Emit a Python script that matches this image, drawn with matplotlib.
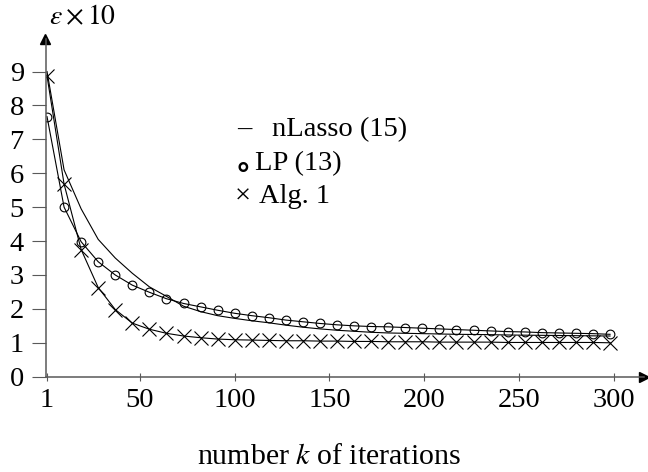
import matplotlib
matplotlib.use('Agg')
import matplotlib.pyplot as plt

plt.rcParams['font.family'] = ['Liberation Serif', 'DejaVu Serif']
plt.rcParams['mathtext.fontset'] = 'stix'
plt.rcParams['axes.unicode_minus'] = False

# iterations where values were recorded
k = [1, 10, 19, 28, 37, 46, 55, 64, 73, 82, 91, 100, 109, 118, 127, 136, 145,
     154, 163, 172, 181, 190, 199, 208, 217, 226, 235, 244, 253, 262, 271, 280,
     289, 298]

# error x 10
nlasso = [9.00, 6.10, 4.95, 4.05, 3.50, 3.05, 2.65, 2.37, 2.08, 1.92, 1.80,
          1.72, 1.65, 1.59, 1.52, 1.46, 1.41, 1.37, 1.34, 1.31, 1.29, 1.28,
          1.27, 1.26, 1.25, 1.245, 1.24, 1.23, 1.225, 1.22, 1.215, 1.21,
          1.205, 1.20]
lp = [7.67, 5.00, 3.98, 3.39, 3.00, 2.70, 2.49, 2.30, 2.16, 2.06, 1.96, 1.87,
      1.80, 1.74, 1.67, 1.62, 1.57, 1.53, 1.50, 1.48, 1.47, 1.45, 1.43, 1.41,
      1.39, 1.37, 1.35, 1.33, 1.32, 1.30, 1.29, 1.28, 1.27, 1.25]
alg1 = [8.87, 5.68, 3.75, 2.63, 1.98, 1.58, 1.40, 1.28, 1.20, 1.15, 1.11,
        1.09, 1.08, 1.07, 1.06, 1.06, 1.05, 1.05, 1.04, 1.04, 1.03, 1.03,
        1.03, 1.02, 1.02, 1.02, 1.02, 1.01, 1.01, 1.01, 1.01, 1.01, 1.01, 1.00]

xticks = [1, 50, 100, 150, 200, 250, 300]
yticks = [0, 1, 2, 3, 4, 5, 6, 7, 8, 9]

fig = plt.figure(figsize=(6.48, 4.72), dpi=100)
ax = fig.add_axes([0.0711, 0.2019, 0.923, 0.7155])

ax.plot(k, nlasso, color='k', lw=0.8)
ax.plot(k, lp, color='k', lw=0.8, marker='o', ms=6.3, mfc='none', mec='k', mew=0.8)
ax.plot(k, alg1, color='k', lw=0.8, marker='x', ms=9.5, mec='k', mew=0.8)

ax.set_xlim(0.5, 316)
ax.set_ylim(0, 9.96)

# axes like a pgfplots "axis lines = left" setup
for s in ['top', 'right']:
    ax.spines[s].set_visible(False)
for s in ['left', 'bottom']:
    ax.spines[s].set_color('0.35')
    ax.spines[s].set_linewidth(1.1)
ax.plot(1, 0, marker='>', color='k', ms=7, transform=ax.get_yaxis_transform(), clip_on=False)
ax.plot(0, 1, marker='^', color='k', ms=7, transform=ax.get_xaxis_transform(), clip_on=False)

ax.set_xticks(xticks)
ax.set_xticklabels([str(t) for t in xticks])
ax.set_yticks(yticks)
ax.set_yticklabels([str(t) for t in yticks])
ax.tick_params(axis='x', direction='inout', length=6, width=0.8, color='0.35',
               labelsize=20.5, pad=5)
ax.tick_params(axis='y', direction='out', length=10, width=0.8, color='0.35',
               labelsize=20.5, pad=6)

# legend written as plain text lines
fs = 20.5
fig.text(0.366, 0.725, '–', fontsize=fs, va='center', ha='left')
fig.text(0.420, 0.725, 'nLasso (15)', fontsize=fs, va='center', ha='left')
fig.text(0.364, 0.650, r'$\circ$', fontsize=26, va='center', ha='left')
fig.text(0.393, 0.654, 'LP (13)', fontsize=fs, va='center', ha='left')
fig.text(0.362, 0.583, '×', fontsize=fs, va='center', ha='left')
fig.text(0.399, 0.583, 'Alg. 1', fontsize=fs, va='center', ha='left')

fig.text(0.127, 0.962, r'$\varepsilon \times 10$', fontsize=20, ha='center', va='center')
fig.text(0.508, 0.032, r'number $k$ of iterations', fontsize=21.5, ha='center', va='center')

fig.savefig('out.png', dpi=100)
